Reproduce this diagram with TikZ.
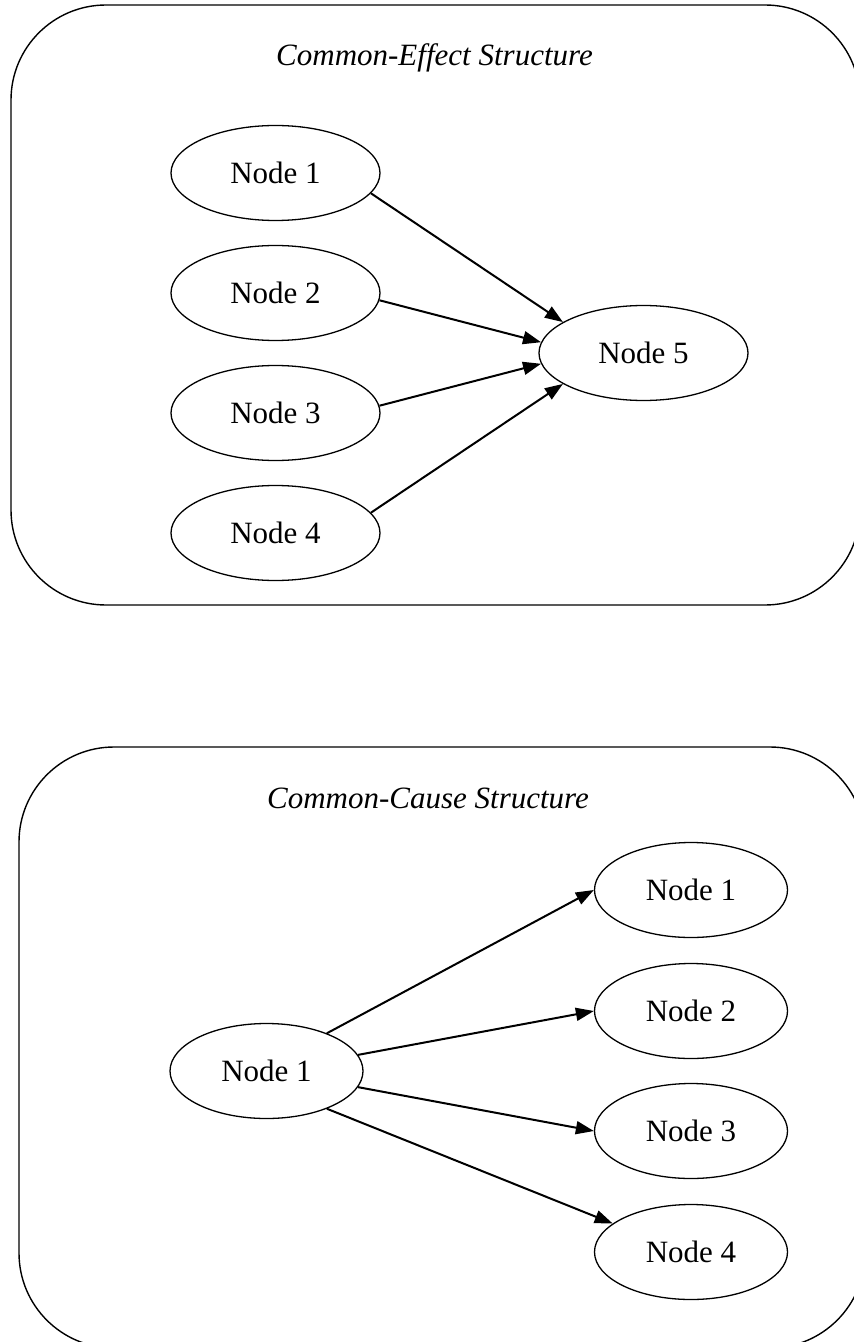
\documentclass[tikz,border=0pt]{standalone}
\usepackage{fontspec}
\setmainfont{Liberation Serif}
\usetikzlibrary{arrows.meta}
\usetikzlibrary{shapes.geometric}
\usetikzlibrary{positioning}

\tikzset{
    panel/.style={draw=black, line width=0.7pt, rounded corners=47.5pt},
    paneltitle/.style={anchor=base, inner sep=0pt, font=\fontsize{15.5}{18}\selectfont\itshape},
    blob/.style={
        ellipse, draw=black, line width=0.65pt, inner sep=0pt,
        minimum width=104.5pt, minimum height=47.5pt,
        font=\fontsize{15.5}{18}\selectfont,
    },
    smallblob/.style={blob, minimum width=96.5pt},
    link/.style={-{Triangle[length=9pt,width=6.5pt]}, line width=1pt},
}

\begin{document}
\begin{tikzpicture}[x=0.5pt, y=-0.5pt]
    \useasboundingbox (0,0) rectangle (853,1342);

    % common effect
    \draw[panel] (11,5) rectangle (860,605);
    \node (effecttitle) at (434.5,66) [paneltitle] {Common-Effect Structure};

    \node (e1) at (275.5,173) [blob] {Node 1};
    \node (e2) at (275.5,293) [blob] {Node 2};
    \node (e3) at (275.5,413) [blob] {Node 3};
    \node (e4) at (275.5,533) [blob] {Node 4};
    \node (e5) at (643.5,353) [blob] {Node 5};

    \draw[link] (e1.-12) -- (e5.159);
    \draw[link] (e2.-4) -- (e5.174);
    \draw[link] (e3.4) -- (e5.186);
    \draw[link] (e4.12) -- (e5.201);

    % common cause
    \draw[panel] (19,747) rectangle (865,1348);
    \node (causetitle) at (428,808) [paneltitle] {Common-Cause Structure};

    \node (c0) at (266.5,1071) [smallblob] {Node 1};
    \node (c1) at (691,890) [smallblob] {Node 1};
    \node (c2) at (691,1011) [smallblob] {Node 2};
    \node (c3) at (691,1131) [smallblob] {Node 3};
    \node (c4) at (691,1252) [smallblob] {Node 4};

    \draw[link] (c0.32) -- (c1.west);
    \draw[link] (c0.10) -- (c2.west);
    \draw[link] (c0.-10) -- (c3.west);
    \draw[link] (c0.-32) -- (c4.160);
\end{tikzpicture}
\end{document}
